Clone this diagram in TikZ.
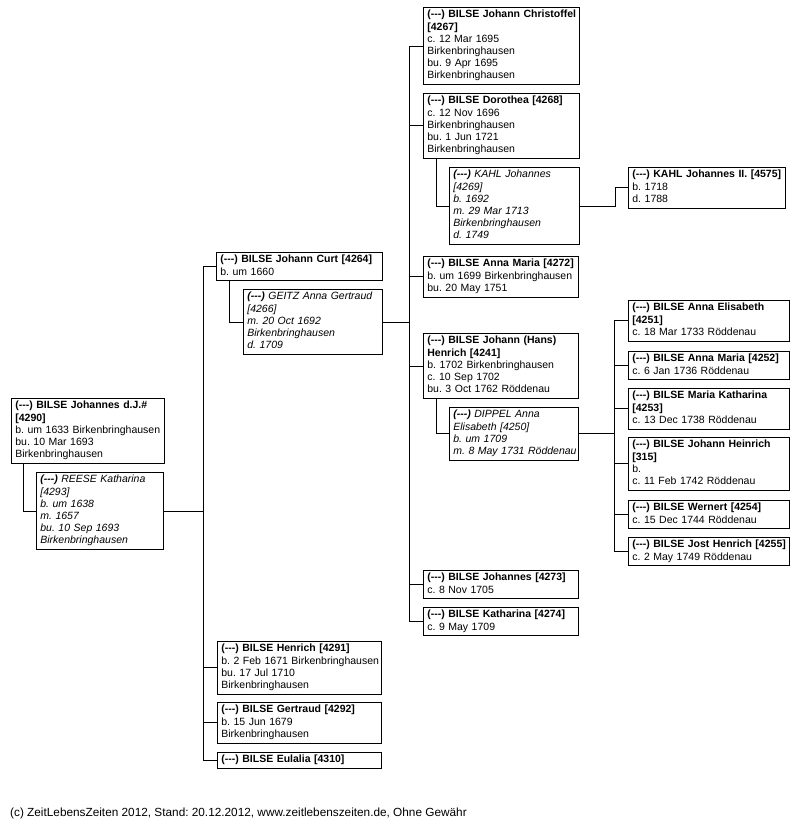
\documentclass[tikz,border=0pt]{standalone}
\usepackage{fontspec}
\setmainfont{Liberation Sans}[Ligatures=TeXOff]
\frenchspacing
\newcommand\lns[1]{\begin{tabular}{@{}l@{}}#1\end{tabular}}
\newcommand\dsh{\textbf{(---)}}
\begin{document}
\begin{tikzpicture}[x=1pt,y=-1pt,
  pb/.style={draw, line width=0.8pt, anchor=north west, inner xsep=4pt, inner ysep=0pt,
    align=left, font=\fontsize{10.5}{12.2}\selectfont},
  sp/.style={pb, font=\fontsize{10.5}{12.2}\selectfont\itshape},
  cn/.style={line width=0.8pt}]
\fill[white] (0,0) rectangle (807,821);
\useasboundingbox (0,0) rectangle (807,821);

% generation 1
\node[pb, text width=145pt, minimum height=65pt] (A) at (11,398)
  {\lns{\textbf{(---) BILSE Johannes d.J.\#}\\ \textbf{[4290]}\\ b. um 1633 Birkenbringhausen\\ bu. 10 Mar 1693\\ Birkenbringhausen}};
\node[sp, text width=119pt, minimum height=77.2pt] (B) at (36,472)
  {\lns{\dsh{} REESE Katharina\\{}[4293]\\ b. um 1638\\ m. 1657\\ bu. 10 Sep 1693\\ Birkenbringhausen}};

% generation 2
\node[pb, text width=158pt, minimum height=28.4pt] (C) at (216,252)
  {\lns{\textbf{(---) BILSE Johann Curt [4264]}\\ b. um 1660}};
\node[sp, text width=131pt, minimum height=65pt] (D) at (243,289)
  {\lns{\dsh{} GEITZ Anna Gertraud\\{}[4266]\\ m. 20 Oct 1692\\ Birkenbringhausen\\ d. 1709}};
\node[pb, text width=156pt, minimum height=52.8pt] (T) at (217,641)
  {\lns{\textbf{(---) BILSE Henrich [4291]}\\ b. 2 Feb 1671 Birkenbringhausen\\ bu. 17 Jul 1710\\ Birkenbringhausen}};
\node[pb, text width=156pt, minimum height=40.6pt] (U) at (217,702)
  {\lns{\textbf{(---) BILSE Gertraud [4292]}\\ b. 15 Jun 1679\\ Birkenbringhausen}};
\node[pb, text width=156pt, minimum height=16.2pt] (V) at (217,752)
  {\lns{\textbf{(---) BILSE Eulalia [4310]}}};

% generation 3
\node[pb, text width=148pt, minimum height=77.2pt] (E) at (423,7)
  {\lns{\textbf{(---) BILSE Johann Christoffel}\\ \textbf{[4267]}\\ c. 12 Mar 1695\\ Birkenbringhausen\\ bu. 9 Apr 1695\\ Birkenbringhausen}};
\node[pb, text width=148pt, minimum height=65pt] (F) at (423,93)
  {\lns{\textbf{(---) BILSE Dorothea [4268]}\\ c. 12 Nov 1696\\ Birkenbringhausen\\ bu. 1 Jun 1721\\ Birkenbringhausen}};
\node[sp, text width=122pt, minimum height=77.2pt] (G) at (449,167)
  {\lns{\dsh{} KAHL Johannes\\{}[4269]\\ b. 1692\\ m. 29 Mar 1713\\ Birkenbringhausen\\ d. 1749}};
\node[pb, text width=147pt, minimum height=40.6pt] (I) at (423,256)
  {\lns{\textbf{(---) BILSE Anna Maria [4272]}\\ b. um 1699 Birkenbringhausen\\ bu. 20 May 1751}};
\node[pb, text width=147pt, minimum height=65pt] (J) at (423,333)
  {\lns{\textbf{(---) BILSE Johann (Hans)}\\ \textbf{Henrich [4241]}\\ b. 1702 Birkenbringhausen\\ c. 10 Sep 1702\\ bu. 3 Oct 1762 Röddenau}};
\node[sp, text width=121pt, minimum height=52.8pt] (K) at (449,407)
  {\lns{\dsh{} DIPPEL Anna\\ Elisabeth [4250]\\ b. um 1709\\ m. 8 May 1731 Röddenau}};
\node[pb, text width=147pt, minimum height=28.4pt] (R) at (423,570)
  {\lns{\textbf{(---) BILSE Johannes [4273]}\\ c. 8 Nov 1705}};
\node[pb, text width=147pt, minimum height=28.4pt] (S) at (423,607)
  {\lns{\textbf{(---) BILSE Katharina [4274]}\\ c. 9 May 1709}};

% generation 4
\node[pb, text width=149pt, minimum height=40.6pt] (H) at (628,167)
  {\lns{\textbf{(---) KAHL Johannes II. [4575]}\\ b. 1718\\ d. 1788}};
\node[pb, text width=153pt, minimum height=40.6pt] (L) at (628,300)
  {\lns{\textbf{(---) BILSE Anna Elisabeth}\\ \textbf{[4251]}\\ c. 18 Mar 1733 Röddenau}};
\node[pb, text width=153pt, minimum height=28.4pt] (M) at (628,351)
  {\lns{\textbf{(---) BILSE Anna Maria [4252]}\\ c. 6 Jan 1736 Röddenau}};
\node[pb, text width=153pt, minimum height=40.6pt] (N) at (628,388)
  {\lns{\textbf{(---) BILSE Maria Katharina}\\ \textbf{[4253]}\\ c. 13 Dec 1738 Röddenau}};
\node[pb, text width=153pt, minimum height=52.8pt] (O) at (628,437)
  {\lns{\textbf{(---) BILSE Johann Heinrich}\\ \textbf{[315]}\\ b.\\ c. 11 Feb 1742 Röddenau}};
\node[pb, text width=153pt, minimum height=28.4pt] (P) at (628,500)
  {\lns{\textbf{(---) BILSE Wernert [4254]}\\ c. 15 Dec 1744 Röddenau}};
\node[pb, text width=153pt, minimum height=28.4pt] (Q) at (628,537)
  {\lns{\textbf{(---) BILSE Jost Henrich [4255]}\\ c. 2 May 1749 Röddenau}};

% footer
\node[anchor=base west, inner sep=0pt, font=\fontsize{11.8}{14}\selectfont] (foot) at (10,816)
  {(c) ZeitLebensZeiten 2012, Stand: 20.12.2012, www.zeitlebenszeiten.de, Ohne Gewähr};

% spines
\coordinate (s1) at (203,0);
\coordinate (s2) at (409,0);
\coordinate (s3) at (614,0);

% connectors generation 1 -> 2
\draw[cn] ([xshift=12pt]A.south west) |- (B.west);
\draw[cn] (B.east) -- (B.east -| s1);
\draw[cn] (C.west) -- (C.west -| s1) -- (V.west -| s1) -- (V.west);
\draw[cn] (T.west -| s1) -- (T.west);
\draw[cn] (U.west -| s1) -- (U.west);
\draw[cn] ([xshift=13pt]C.south west) |- (D.west);

% generation 2 -> 3
\draw[cn] (D.east) -- (D.east -| s2);
\draw[cn] (E.west) -- (E.west -| s2) -- (S.west -| s2) -- (S.west);
\draw[cn] (F.west -| s2) -- (F.west);
\draw[cn] (I.west -| s2) -- (I.west);
\draw[cn] (J.west -| s2) -- (J.west);
\draw[cn] (R.west -| s2) -- (R.west);
\draw[cn] ([xshift=13pt]F.south west) |- (G.west);
\draw[cn] ([xshift=13pt]J.south west) |- (K.west);

% generation 3 -> 4
\draw[cn] (G.east) -- ++(36,0) |- (H.west);
\draw[cn] (K.east) -- (K.east -| s3);
\draw[cn] (L.west) -- (L.west -| s3) -- (Q.west -| s3) -- (Q.west);
\draw[cn] (M.west -| s3) -- (M.west);
\draw[cn] (N.west -| s3) -- (N.west);
\draw[cn] (O.west -| s3) -- (O.west);
\draw[cn] (P.west -| s3) -- (P.west);
\end{tikzpicture}
\end{document}
